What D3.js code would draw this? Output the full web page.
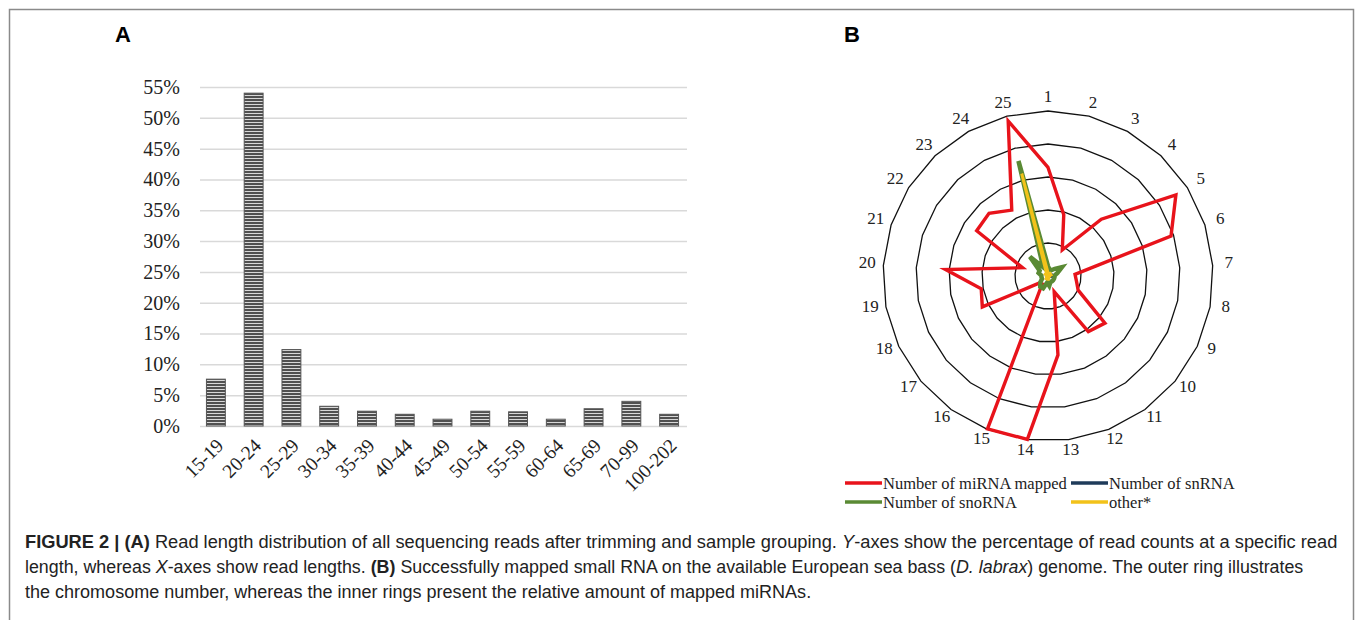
<!DOCTYPE html>
<html>
<head>
<meta charset="utf-8">
<script src="https://cdn.jsdelivr.net/npm/d3@7"></script>
<style>
  body { margin: 0; background: #fff; }
  svg { display: block; }
</style>
</head>
<body>
<svg id="fig" width="1355" height="620"></svg>
<script>
// panel A: read length distribution
const lengthBins = ["15-19", "20-24", "25-29", "30-34", "35-39", "40-44", "45-49",
    "50-54", "55-59", "60-64", "65-69", "70-99", "100-202"];
const readPct = [7.6, 54.0, 12.4, 3.2, 2.4, 1.9, 1.1, 2.4, 2.3, 1.1, 2.8, 4.0, 1.9];
const pctTicks = [0, 5, 10, 15, 20, 25, 30, 35, 40, 45, 50, 55];

// panel B: mapped small RNA per chromosome (relative amount)
const chromosomes = d3.range(1, 26).map(String);
const miRNA = [32.9, 19.2, 9.0, 23.6, 45.9, 39.2, 8.2, 8.8, 10.1, 22.4, 20.8, 5.1, 24.1,
    49.9, 49.8, 3.0, 3.3, 22.0, 20.6, 31.1, 8.1, 25.6, 26.1, 22.8, 48.5];
const snRNA = [0.6, 0.5, 0.5, 0.6, 0.8, 1.2, 1.5, 0.8, 0.5, 0.5, 0.5, 0.5, 0.6,
    0.6, 0.6, 0.5, 0.5, 0.5, 0.5, 0.5, 0.5, 0.5, 0.6, 0.6, 0.8];
const snoRNA = [3, 2, 2, 3, 5, 3, 2, 2, 2, 2, 2, 2, 3, 2, 4, 4, 3, 2, 2, 2, 3, 3, 8, 3, 36];
const other = [1, 0.5, 0.5, 1, 1, 1, 0.5, 0.5, 0.5, 0.5, 0.5, 0.5, 1, 1, 1, 1, 0.5,
    0.5, 0.5, 0.5, 0.5, 1, 1, 1, 32];
const ringTicks = [10, 20, 30, 40, 50];

const svg = d3.select("#fig");
const serif = "'Liberation Serif', 'Times New Roman', serif";

// outer frame
svg.append("path")
    .attr("d", "M9.5,640 V9.5 H1353.5 V640")
    .attr("fill", "none")
    .attr("stroke", "#8a8a8a")
    .attr("stroke-width", 1.5);

// hatch pattern for bars
const defs = svg.append("defs");
const pat = defs.append("pattern")
    .attr("id", "hatch")
    .attr("patternUnits", "userSpaceOnUse")
    .attr("width", 4).attr("height", 3);
pat.append("rect").attr("width", 4).attr("height", 3).attr("fill", "#d8d8d8");
pat.append("rect").attr("width", 4).attr("height", 2).attr("fill", "#505050");

// ---------- A ----------
svg.append("text")
    .attr("x", 123).attr("y", 42)
    .attr("text-anchor", "middle")
    .attr("font-family", "'Liberation Sans', Arial, sans-serif")
    .attr("font-weight", "bold")
    .attr("font-size", 22)
    .text("A");

const x = d3.scaleBand()
    .domain(lengthBins)
    .range([197, 688])
    .paddingInner(0.5)
    .paddingOuter(0.25);

const y = d3.scaleLinear()
    .domain([0, 55])
    .range([426, 87]);

const yAxis = svg.append("g")
    .attr("transform", "translate(200,0)")
    .call(d3.axisLeft(y).tickValues(pctTicks).tickSize(-487).tickPadding(20)
        .tickFormat(d => d + "%"));
yAxis.select(".domain").remove();
yAxis.selectAll(".tick line").attr("stroke", "#d9d9d9").attr("stroke-width", 1.5);
yAxis.selectAll(".tick text")
    .attr("font-family", serif)
    .attr("font-size", 20)
    .attr("fill", "#222");

svg.append("g")
    .selectAll("rect")
    .data(readPct)
    .join("rect")
    .attr("x", (d, i) => x(lengthBins[i]))
    .attr("y", d => y(d))
    .attr("width", x.bandwidth())
    .attr("height", d => y(0) - y(d))
    .attr("fill", "url(#hatch)")
    .attr("stroke", "#555")
    .attr("stroke-width", 1);

svg.append("g")
    .selectAll("text")
    .data(lengthBins)
    .join("text")
    .attr("transform", d => `translate(${x(d) + x.bandwidth() / 2 + 4},442) rotate(-45)`)
    .attr("text-anchor", "end")
    .attr("dy", "0.35em")
    .attr("font-family", serif)
    .attr("font-size", 19.5)
    .attr("fill", "#222")
    .text(d => d);

// ---------- B ----------
svg.append("text")
    .attr("x", 852).attr("y", 42)
    .attr("text-anchor", "middle")
    .attr("font-family", "'Liberation Sans', Arial, sans-serif")
    .attr("font-weight", "bold")
    .attr("font-size", 22)
    .text("B");

const cx = 1048, cy = 276;
const r = d3.scaleLinear().domain([0, 50]).range([0, 165]);
const ang = d3.scalePoint().domain(chromosomes).range([0, 2 * Math.PI * 24 / 25]);

const radar = svg.append("g").attr("transform", `translate(${cx},${cy})`);

const ringLine = d3.lineRadial()
    .angle(c => ang(c))
    .curve(d3.curveLinearClosed);

radar.append("g")
    .selectAll("path")
    .data(ringTicks)
    .join("path")
    .attr("d", t => ringLine.radius(() => r(t))(chromosomes))
    .attr("fill", "none")
    .attr("stroke", "#111")
    .attr("stroke-width", 1.3);

radar.append("g")
    .selectAll("text")
    .data(chromosomes)
    .join("text")
    .attr("x", c => Math.sin(ang(c)) * 181)
    .attr("y", c => -Math.cos(ang(c)) * 177 - 3)
    .attr("text-anchor", "middle")
    .attr("dy", "0.35em")
    .attr("font-family", serif)
    .attr("font-size", 17)
    .attr("fill", "#222")
    .text(c => c);

const series = [
    { name: "Number of miRNA mapped", values: miRNA, color: "#e8131b", width: 3.4 },
    { name: "Number of snRNA", values: snRNA, color: "#1f3b5a", width: 3 },
    { name: "Number of snoRNA", values: snoRNA, color: "#5a8a34", width: 4.5 },
    { name: "other*", values: other, color: "#f2c21a", width: 3 }
];

const seriesLine = d3.lineRadial()
    .angle((v, i) => ang(chromosomes[i]))
    .radius(v => r(v))
    .curve(d3.curveLinearClosed);

radar.append("g")
    .selectAll("path")
    .data(series)
    .join("path")
    .attr("d", s => seriesLine(s.values))
    .attr("fill", "none")
    .attr("stroke", s => s.color)
    .attr("stroke-width", s => s.width)
    .attr("stroke-linejoin", "miter");

// legend
const legendPos = [[845, 483], [1071, 483], [845, 502], [1071, 502]];
const order = [0, 1, 2, 3];
const leg = svg.append("g")
    .selectAll("g")
    .data(order)
    .join("g")
    .attr("transform", (d, i) => `translate(${legendPos[i][0]},${legendPos[i][1]})`);
leg.append("line")
    .attr("x1", 0).attr("x2", 37)
    .attr("stroke", d => series[d].color)
    .attr("stroke-width", 3.5);
leg.append("text")
    .attr("x", 38)
    .attr("dy", "0.35em")
    .attr("font-family", serif)
    .attr("font-size", 16.5)
    .attr("fill", "#222")
    .text(d => series[d].name);

// ---------- caption ----------
// condensed look: draw at normal width, then squeeze each line horizontally
const capFont = "'Liberation Sans', Arial, sans-serif";
const capLines = [
    { y: 542, w: 1313, parts: [["FIGURE 2 | (A)", true], [" Read length distribution of all sequencing reads after trimming and sample grouping. ", false], ["Y", "i"], ["-axes show the percentage of read counts at a specific read", false]] },
    { y: 567, w: 1279, parts: [["length, whereas ", false], ["X", "i"], ["-axes show read lengths. ", false], ["(B)", true], [" Successfully mapped small RNA on the available European sea bass (", false], ["D. labrax", "i"], [") genome. The outer ring illustrates", false]] },
    { y: 592, w: 787, parts: [["the chromosome number, whereas the inner rings present the relative amount of mapped miRNAs.", false]] }
];
const cap = svg.append("g");
capLines.forEach(line => {
    const g = cap.append("g");
    const t = g.append("text")
        .attr("dy", "0.35em")
        .attr("font-family", capFont)
        .attr("font-size", 18.5)
        .attr("fill", "#222");
    line.parts.forEach(p => {
        t.append("tspan")
            .attr("font-weight", p[1] === true ? "bold" : null)
            .attr("font-style", p[1] === "i" ? "italic" : null)
            .text(p[0]);
    });
    const k = line.w / t.node().getComputedTextLength();
    g.attr("transform", `translate(25,${line.y}) scale(${k},1)`);
});
</script>
</body>
</html>
